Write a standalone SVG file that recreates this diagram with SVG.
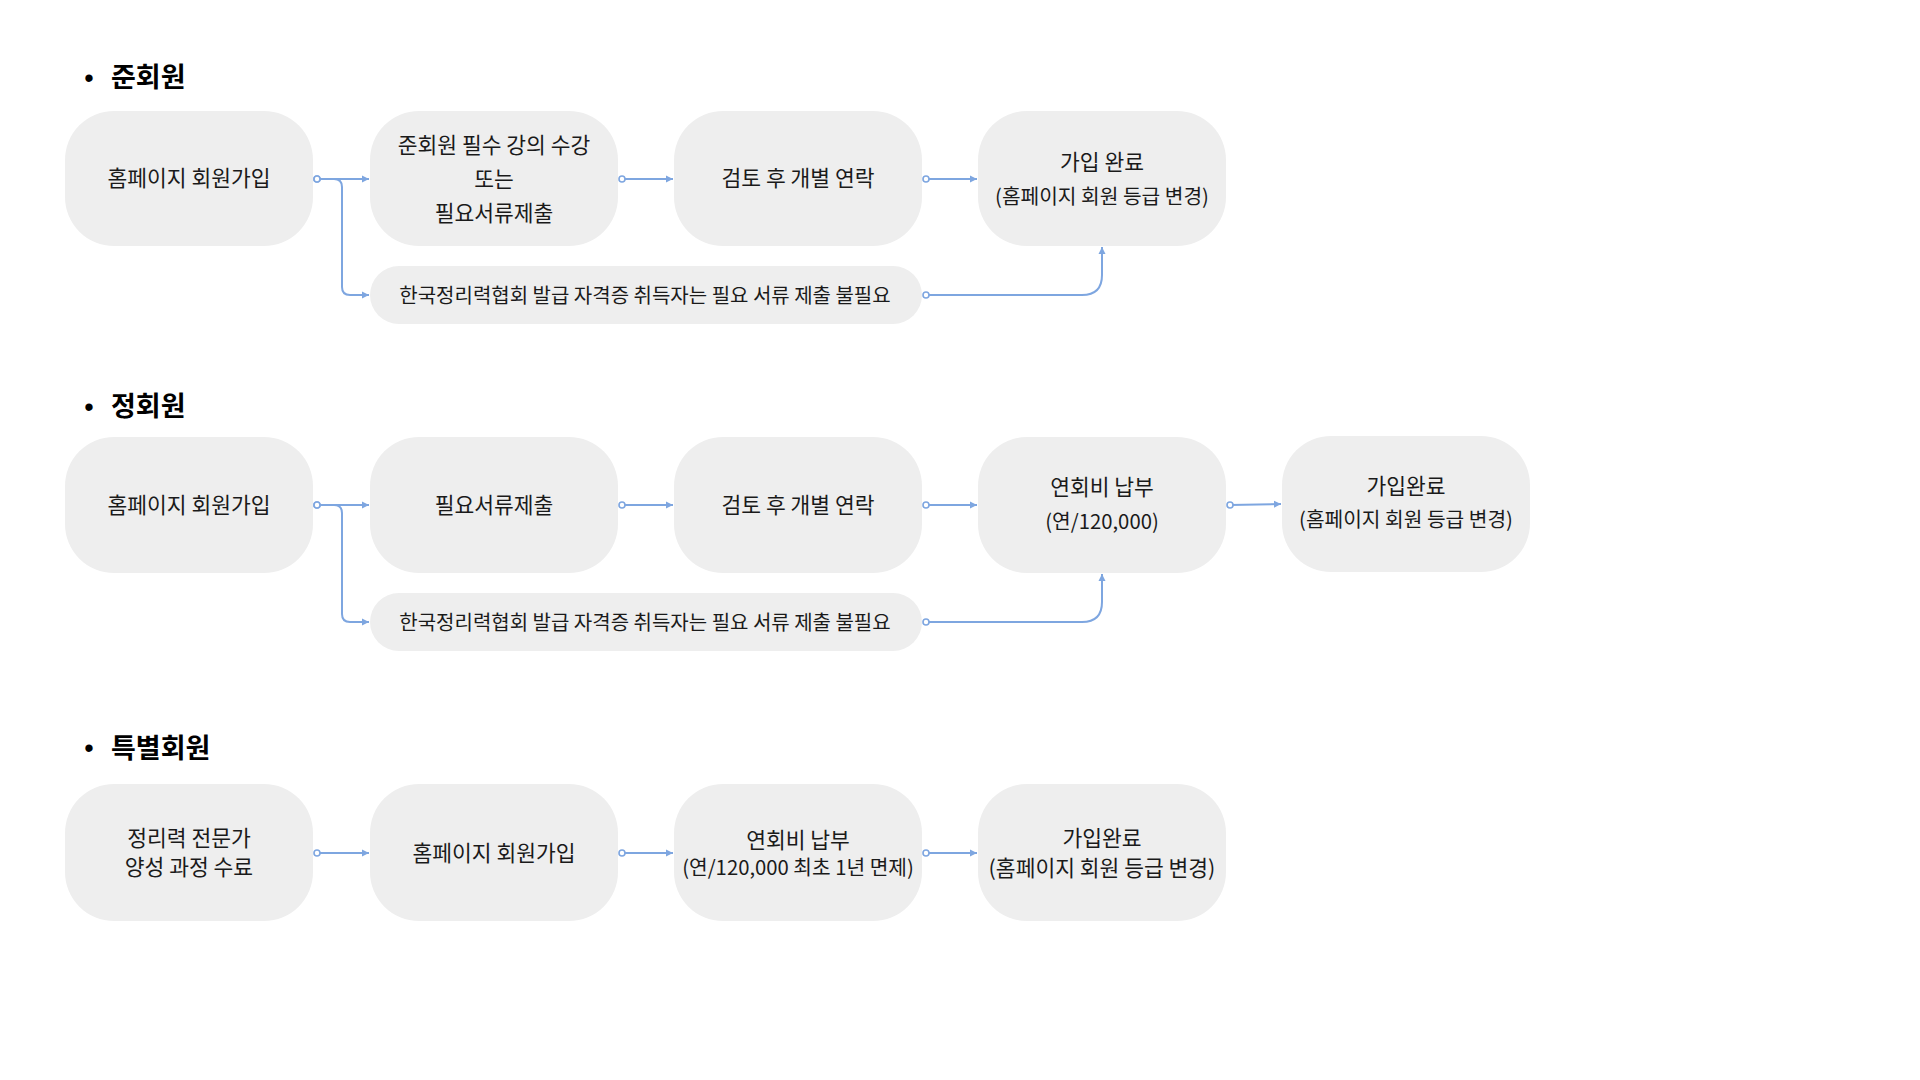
<svg xmlns="http://www.w3.org/2000/svg" width="1920" height="1080" viewBox="0 0 1920 1080">
<defs>
<style>
.box{fill:#eeeeee;}
.t{font-family:"Noto Sans CJK KR","Noto Sans",sans-serif;font-size:21.5px;fill:#1a1a1a;text-anchor:middle;dominant-baseline:central;}
.s{font-size:20.3px;}
.sub{font-size:20px;}
.h{font-family:"Noto Sans CJK KR","Noto Sans",sans-serif;font-size:27px;font-weight:bold;fill:#000;dominant-baseline:central;}
.b{font-family:"Liberation Sans",sans-serif;font-size:27px;fill:#000;text-anchor:middle;}
.c{fill:none;stroke:#7ea6e0;stroke-width:2;marker-start:url(#dot);marker-end:url(#arr);}
</style>
<marker id="arr" markerUnits="userSpaceOnUse" markerWidth="8" markerHeight="8" refX="7" refY="4" orient="auto">
<path d="M0,0.5 L7,4 L0,7.5 z" fill="#7ea6e0"/>
</marker>
<marker id="dot" markerUnits="userSpaceOnUse" markerWidth="10" markerHeight="10" refX="5" refY="5" orient="auto">
<circle cx="5" cy="5" r="3" fill="#ffffff" stroke="#7ea6e0" stroke-width="1.6"/>
</marker>
</defs>
<rect width="1920" height="1080" fill="#ffffff"/>

<g id="heading1"><text class="b" x="89" y="87">•</text><text class="h" x="111" y="75.5">준회원</text></g>
<g id="heading2"><text class="b" x="89" y="416">•</text><text class="h" x="111" y="404">정회원</text></g>
<g id="heading3"><text class="b" x="89" y="757">•</text><text class="h" x="111" y="746">특별회원</text></g>

<g id="r1n1"><rect class="box" x="65" y="111" width="248" height="135" rx="49"/><text class="t" x="189" y="176.5">홈페이지 회원가입</text></g>
<g id="r1n2"><rect class="box" x="370" y="111" width="248" height="135" rx="49"/><text class="t" x="494" y="143">준회원 필수 강의 수강</text><text class="t" x="494" y="177">또는</text><text class="t" x="494" y="211">필요서류제출</text></g>
<g id="r1n3"><rect class="box" x="674" y="111" width="248" height="135" rx="49"/><text class="t" x="798" y="176.5">검토 후 개별 연락</text></g>
<g id="r1n4"><rect class="box" x="978" y="111" width="248" height="135" rx="49"/><text class="t" x="1102" y="160">가입 완료</text><text class="t s" x="1102" y="195">(홈페이지 회원 등급 변경)</text></g>
<g id="r1sub"><rect class="box" x="370" y="266" width="552" height="58" rx="29"/><text class="t sub" x="645" y="294">한국정리력협회 발급 자격증 취득자는 필요 서류 제출 불필요</text></g>

<g id="r2n1"><rect class="box" x="65" y="437" width="248" height="136" rx="49"/><text class="t" x="189" y="503">홈페이지 회원가입</text></g>
<g id="r2n2"><rect class="box" x="370" y="437" width="248" height="136" rx="49"/><text class="t" x="494" y="503">필요서류제출</text></g>
<g id="r2n3"><rect class="box" x="674" y="437" width="248" height="136" rx="49"/><text class="t" x="798" y="503">검토 후 개별 연락</text></g>
<g id="r2n4"><rect class="box" x="978" y="437" width="248" height="136" rx="49"/><text class="t" x="1102" y="485">연회비 납부</text><text class="t s" x="1102" y="520">(연/120,000)</text></g>
<g id="r2n5"><rect class="box" x="1282" y="436" width="248" height="136" rx="49"/><text class="t" x="1406" y="484">가입완료</text><text class="t s" x="1406" y="518">(홈페이지 회원 등급 변경)</text></g>
<g id="r2sub"><rect class="box" x="370" y="593" width="552" height="58" rx="29"/><text class="t sub" x="645" y="621">한국정리력협회 발급 자격증 취득자는 필요 서류 제출 불필요</text></g>

<g id="r3n1"><rect class="box" x="65" y="784" width="248" height="137" rx="49"/><text class="t" x="189" y="836">정리력 전문가</text><text class="t" x="189" y="865">양성 과정 수료</text></g>
<g id="r3n2"><rect class="box" x="370" y="784" width="248" height="137" rx="49"/><text class="t" x="494" y="851">홈페이지 회원가입</text></g>
<g id="r3n3"><rect class="box" x="674" y="784" width="248" height="137" rx="49"/><text class="t" x="798" y="838">연회비 납부</text><text class="t s" x="798" y="866">(연/120,000 최초 1년 면제)</text></g>
<g id="r3n4"><rect class="box" x="978" y="784" width="248" height="137" rx="49"/><text class="t" x="1102" y="836">가입완료</text><text class="t" x="1102" y="866">(홈페이지 회원 등급 변경)</text></g>

<g id="connectors">
<path class="c" d="M317,179 H369"/>
<path class="c" d="M317,179 H334 Q342,179 342,187 V287 Q342,295 350,295 H369"/>
<path class="c" d="M622,179 H673"/>
<path class="c" d="M926,179 H977"/>
<path class="c" d="M926,295 H1082 Q1102,295 1102,275 V247"/>

<path class="c" d="M317,505 H369"/>
<path class="c" d="M317,505 H334 Q342,505 342,513 V614 Q342,622 350,622 H369"/>
<path class="c" d="M622,505 H673"/>
<path class="c" d="M926,505 H977"/>
<path class="c" d="M1230,505 L1281,504"/>
<path class="c" d="M926,622 H1082 Q1102,622 1102,602 V574"/>

<path class="c" d="M317,853 H369"/>
<path class="c" d="M622,853 H673"/>
<path class="c" d="M926,853 H977"/>
</g>
</svg>
